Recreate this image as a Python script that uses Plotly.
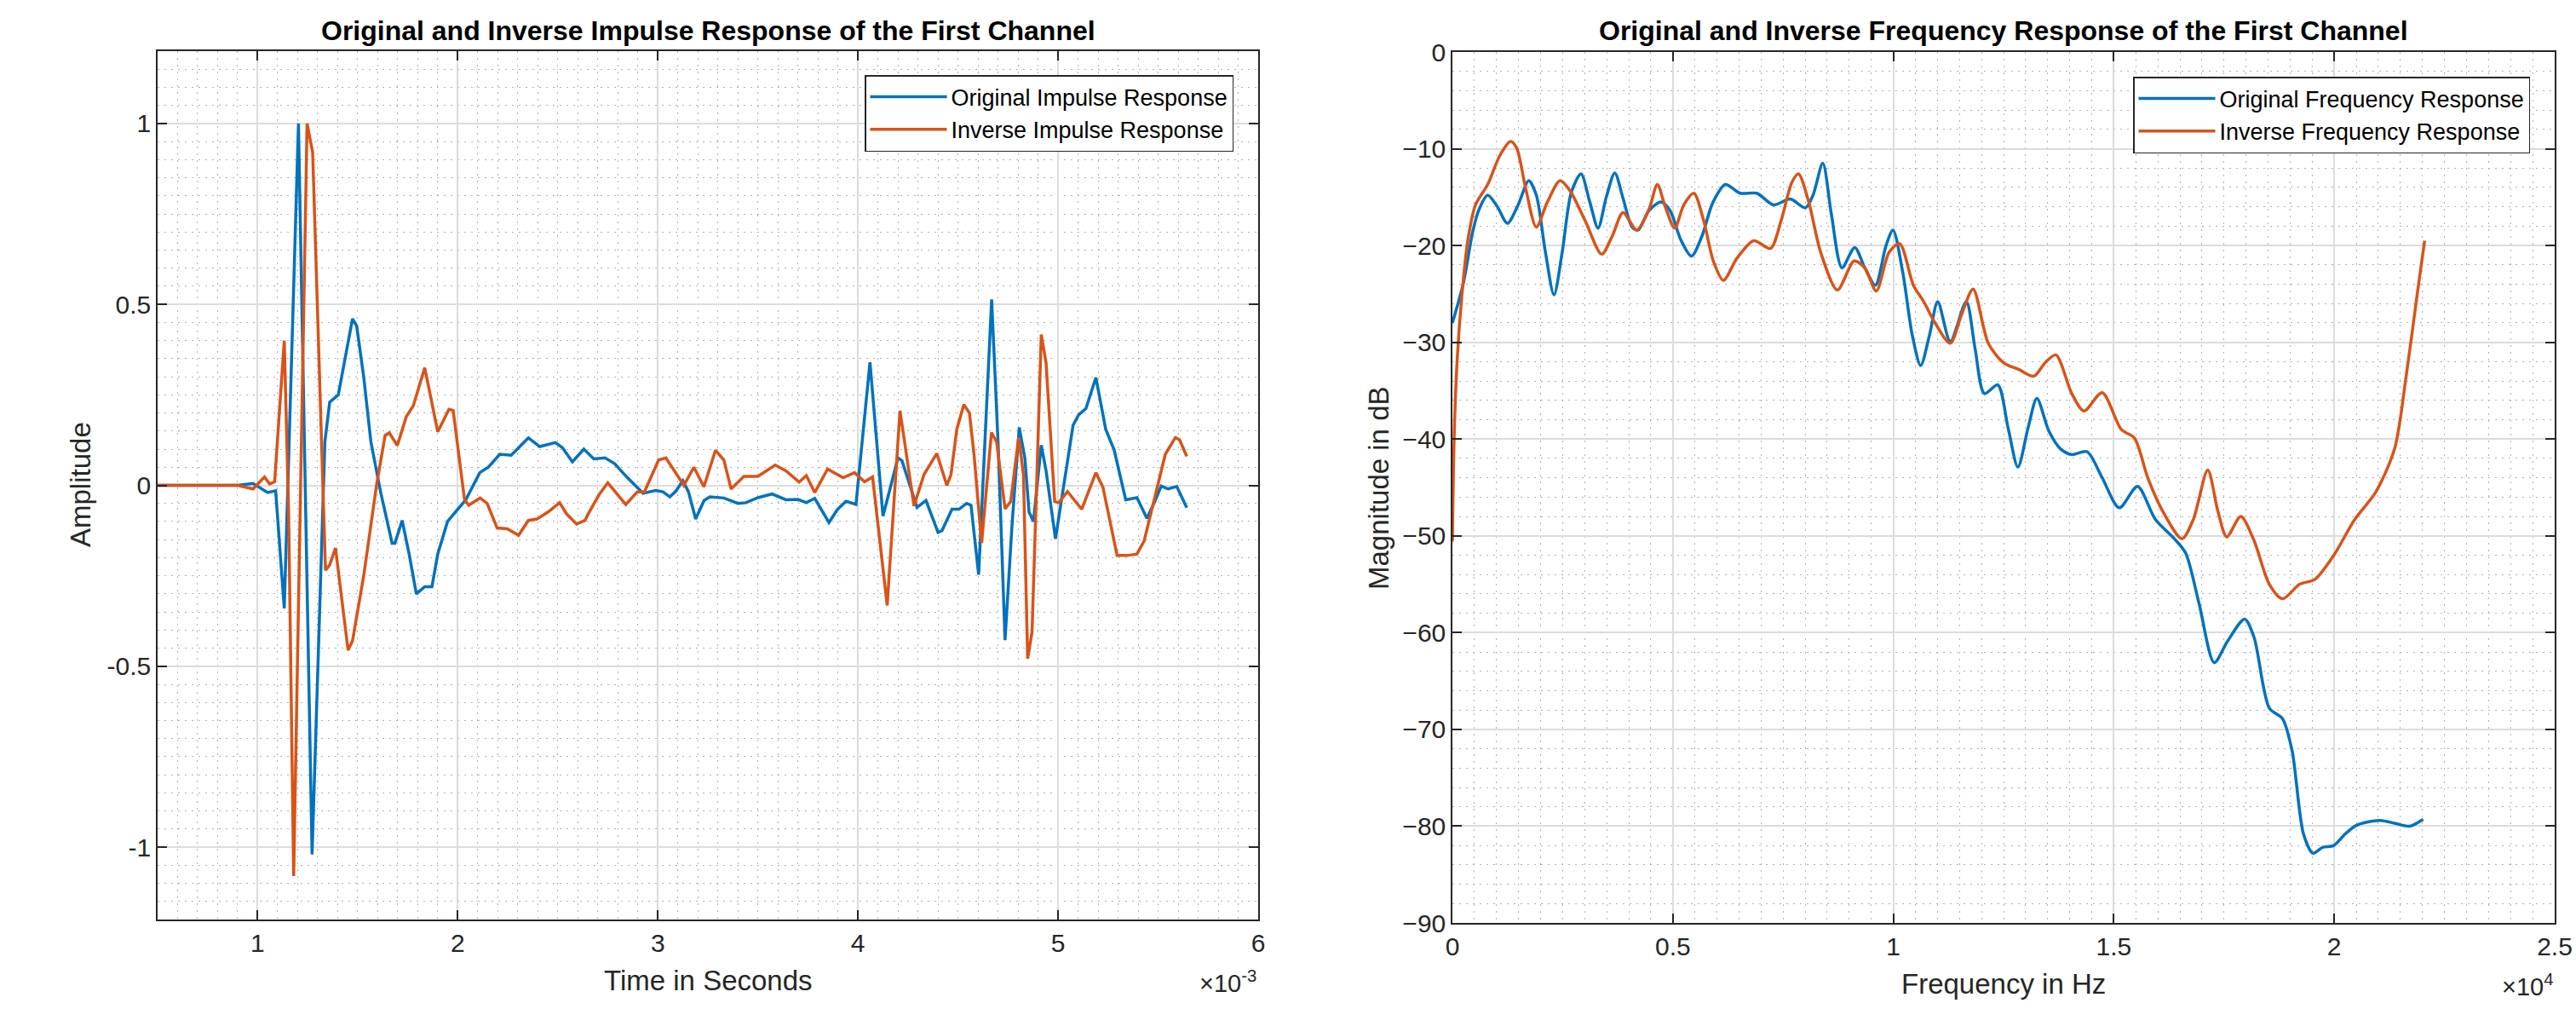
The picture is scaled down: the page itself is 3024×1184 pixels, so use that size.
import plotly.graph_objects as go

# ---------------- data ----------------
# Impulse responses: time in units of 1e-3 s
T_ORIG = [0.50, 0.90, 0.977, 1.05, 1.09, 1.133, 1.204, 1.272, 1.336, 1.36, 1.403, 1.474, 1.495,
          1.53, 1.566, 1.615, 1.672, 1.686, 1.722, 1.757, 1.793, 1.835, 1.871, 1.90, 1.949, 2.04,
          2.11, 2.153, 2.21, 2.267, 2.353, 2.41, 2.488, 2.523, 2.573, 2.63, 2.68, 2.736, 2.784,
          2.848, 2.926, 2.99, 3.025, 3.06, 3.09, 3.125, 3.153, 3.189, 3.231, 3.26, 3.33, 3.40,
          3.44, 3.50, 3.57, 3.64, 3.70, 3.742, 3.784, 3.855, 3.897, 3.94, 3.99, 4.06, 4.125,
          4.20, 4.22, 4.295, 4.34, 4.40, 4.42, 4.47, 4.505, 4.543, 4.565, 4.603, 4.668, 4.70,
          4.735, 4.77, 4.806, 4.834, 4.855, 4.877, 4.916, 4.94, 4.987, 5.018, 5.075, 5.103,
          5.139, 5.189, 5.238, 5.28, 5.338, 5.394, 5.444, 5.487, 5.515, 5.55, 5.593, 5.643]
IR_ORIG = [0, 0, 0.005, -0.02, -0.015, -0.34, 1.0, -1.02, 0.12, 0.23, 0.25, 0.46, 0.44,
           0.30, 0.12, -0.02, -0.16, -0.16, -0.097, -0.19, -0.30, -0.28, -0.28, -0.19, -0.10, -0.04,
           0.035, 0.05, 0.086, 0.083, 0.131, 0.107, 0.118, 0.104, 0.065, 0.10, 0.073, 0.076, 0.06,
           0.021, -0.022, -0.014, -0.018, -0.032, -0.016, 0.013, -0.018, -0.093, -0.042, -0.032, -0.035, -0.05,
           -0.048, -0.034, -0.024, -0.04, -0.039, -0.048, -0.036, -0.103, -0.067, -0.044, -0.053, 0.34, -0.085,
           0.076, 0.068, -0.061, -0.042, -0.13, -0.125, -0.066, -0.066, -0.05, -0.055, -0.247, 0.514, 0.12,
           -0.428, -0.108, 0.16, 0.075, -0.074, -0.10, 0.111, 0.04, -0.148, -0.04, 0.166, 0.195,
           0.212, 0.298, 0.155, 0.098, -0.04, -0.034, -0.091, -0.04, -0.002, -0.01, -0.003, -0.062]

T_INV = [0.50, 0.90, 0.977, 1.034, 1.06, 1.085, 1.133, 1.155, 1.18, 1.247, 1.275, 1.339, 1.36,
         1.389, 1.452, 1.474, 1.53, 1.594, 1.637, 1.658, 1.698, 1.743, 1.778, 1.835, 1.90, 1.956,
         1.977, 2.034, 2.055, 2.112, 2.147, 2.197, 2.247, 2.304, 2.353, 2.396, 2.453, 2.509, 2.544,
         2.594, 2.636, 2.65, 2.706, 2.75, 2.84, 2.897, 2.933, 3.004, 3.04, 3.13, 3.18, 3.23, 3.288,
         3.33, 3.366, 3.43, 3.50, 3.586, 3.64, 3.706, 3.742, 3.784, 3.848, 3.926, 3.983, 4.033,
         4.073, 4.11, 4.146, 4.21, 4.28, 4.33, 4.394, 4.444, 4.465, 4.494, 4.529, 4.557, 4.58,
         4.618, 4.667, 4.693, 4.735, 4.763, 4.803, 4.827, 4.848, 4.87, 4.916, 4.94, 4.983, 5.004,
         5.047, 5.118, 5.189, 5.224, 5.295, 5.345, 5.394, 5.43, 5.487, 5.536, 5.586, 5.607, 5.643]
IR_INV = [0, 0, -0.01, 0.023, 0.004, 0.01, 0.40, -0.08, -1.08, 1.0, 0.92, -0.235, -0.22,
          -0.173, -0.456, -0.43, -0.25, 0.0, 0.138, 0.145, 0.11, 0.19, 0.22, 0.325, 0.148, 0.21,
          0.207, -0.04, -0.055, -0.035, -0.05, -0.118, -0.12, -0.138, -0.097, -0.093, -0.073, -0.048, -0.079,
          -0.107, -0.097, -0.081, -0.026, 0.007, -0.053, -0.018, -0.018, 0.07, 0.076, 0.0, 0.05, -0.004, 0.097,
          0.07, -0.01, 0.025, 0.025, 0.056, 0.04, 0.009, 0.027, -0.02, 0.045, 0.021, 0.035, 0.01,
          0.023, -0.15, -0.332, 0.206, -0.057, 0.03, 0.088, 0.0, 0.03, 0.155, 0.223, 0.2, 0.085,
          -0.159, 0.146, 0.12, -0.065, -0.045, 0.132, 0.03, -0.479, -0.405, 0.417, 0.338, -0.045, -0.048,
          -0.017, -0.066, 0.035, -0.005, -0.194, -0.194, -0.19, -0.154, -0.028, 0.086, 0.132, 0.126, 0.08]

# Frequency responses: frequency in Hz, magnitude in dB
F_ORIG = [0, 248, 455, 593, 800, 1007, 1248, 1490, 1731, 1903, 2110, 2304, 2490, 2697, 2917, 3110,
          3304, 3490, 3683, 3869, 4076, 4214, 4455, 4731, 4938, 5179, 5421, 5662, 5903, 6193, 6524,
          6904, 7283, 7662, 8007, 8179, 8400, 8593, 8835, 9124, 9352, 9593, 9835, 9993, 10215, 10431,
          10620, 10818, 11008, 11292, 11654, 11852, 12067, 12368, 12601, 12825, 13058, 13256, 13531,
          13790, 14048, 14393, 14737, 15125, 15538, 15943, 16374, 16632, 16934, 17278, 17579, 17967,
          18182, 18527, 18828, 19044, 19302, 19518, 19733, 19991, 20250, 20508, 21025, 21369, 21714, 22015]
DB_ORIG = [-28.0, -23.9, -18.7, -16.4, -14.8, -15.9, -17.7, -15.8, -13.3, -14.8, -20.7, -25.1, -20.7,
           -14.5, -12.6, -15.4, -18.2, -15.0, -12.5, -15.1, -18.1, -18.4, -16.4, -15.5, -16.4, -19.4,
           -21.1, -19.0, -15.6, -13.7, -14.6, -14.6, -15.8, -15.2, -16.1, -14.8, -11.5, -16.7, -22.3,
           -20.2, -22.3, -24.1, -20.0, -18.4, -22.8, -29.3, -32.4, -29.3, -25.8, -29.9, -25.8, -30.6,
           -35.3, -34.4, -38.8, -42.9, -38.8, -35.8, -39.2, -41.0, -41.6, -41.3, -44.0, -47.1, -44.9,
           -48.3, -50.3, -51.8, -57.0, -63.1, -60.9, -58.6, -60.5, -67.8, -68.9, -72.2, -80.8, -82.8,
           -82.2, -82.0, -80.8, -79.9, -79.4, -79.7, -80.0, -79.3]

F_INV = [0, 41, 110, 214, 352, 524, 800, 1076, 1317, 1455, 1662, 1903, 2145, 2441, 2662, 3007, 3386,
         3628, 3869, 4180, 4455, 4648, 4835, 5042, 5248, 5476, 5697, 5918, 6145, 6455, 6835, 7214,
         7456, 7697, 7849, 8076, 8352, 8731, 9111, 9352, 9614, 9904, 10145, 10455, 10689, 10947,
         11292, 11550, 11809, 12153, 12497, 12842, 13187, 13445, 13686, 14048, 14324, 14737, 15168,
         15469, 15771, 16115, 16546, 16804, 17131, 17364, 17562, 17881, 18182, 18527, 18828, 19216,
         19560, 19991, 20465, 20939, 21369, 21628, 21886, 22050]
DB_INV = [-50.6, -39.6, -31.7, -25.2, -19.4, -15.8, -13.7, -10.7, -9.25, -9.9, -14.1, -18.1, -15.6,
          -13.3, -14.3, -17.4, -20.9, -19.0, -16.6, -18.4, -16.3, -13.7, -16.1, -18.2, -15.8, -14.6,
          -17.4, -21.6, -23.6, -21.3, -19.5, -20.3, -17.4, -13.5, -12.6, -15.4, -20.7, -24.6, -21.6,
          -22.3, -24.7, -20.7, -19.8, -24.1, -25.8, -28.0, -30.1, -27.1, -24.5, -30.1, -32.1, -32.8,
          -33.5, -32.1, -31.3, -35.3, -37.1, -35.2, -39.0, -39.9, -44.0, -47.5, -50.3, -48.3, -43.2,
          -47.5, -50.1, -48.0, -50.5, -55.0, -56.5, -55.0, -54.5, -52.0, -48.3, -45.5, -41.0, -33.6,
          -24.9, -19.5]

X1_TICKS = [1, 2, 3, 4, 5, 6]
Y1_TICKS = [-1, -0.5, 0, 0.5, 1]
Y1_TICKTEXT = ["-1", "-0.5", "0", "0.5", "1"]
X2_TICKS = [0, 5000, 10000, 15000, 20000, 25000]
X2_TICKTEXT = ["0", "0.5", "1", "1.5", "2", "2.5"]
Y2_TICKS = [-90, -80, -70, -60, -50, -40, -30, -20, -10, 0]

# ---------------- styling ----------------
W, H = 3024, 1184
BLUE = "#0072BD"
ORANGE = "#D95319"
AX = "#262626"
FONT = "Liberation Sans, Arial, Helvetica, sans-serif"


def fx(p):
    return p / W


def fy(p):
    return 1 - p / H


fig = go.Figure()
fig.add_trace(go.Scatter(x=T_ORIG, y=IR_ORIG, mode="lines", name="Original Impulse Response",
                         line=dict(color=BLUE, width=3.5), xaxis="x", yaxis="y", legend="legend"))
fig.add_trace(go.Scatter(x=T_INV, y=IR_INV, mode="lines", name="Inverse Impulse Response",
                         line=dict(color=ORANGE, width=3.5), xaxis="x", yaxis="y", legend="legend"))
fig.add_trace(go.Scatter(x=F_ORIG, y=DB_ORIG, mode="lines", name="Original Frequency Response",
                         line=dict(color=BLUE, width=3.5, shape="spline", smoothing=0.8),
                         xaxis="x2", yaxis="y2", legend="legend2"))
fig.add_trace(go.Scatter(x=F_INV, y=DB_INV, mode="lines", name="Inverse Frequency Response",
                         line=dict(color=ORANGE, width=3.5, shape="spline", smoothing=0.8),
                         xaxis="x2", yaxis="y2", legend="legend2"))


def axis_style(minor_dtick):
    return dict(
        showline=True, linecolor=AX, linewidth=1.5, mirror="allticks",
        ticks="inside", ticklen=11, tickwidth=1.5, tickcolor=AX,
        showgrid=True, gridcolor="#dcdcdc", gridwidth=1.5, zeroline=False,
        tickfont=dict(family=FONT, size=30, color=AX),
        automargin=False, fixedrange=True,
        minor=dict(dtick=minor_dtick, showgrid=True, gridcolor="#b4b4b4",
                   griddash="2px,6px", gridwidth=1, ticks=""),
    )


xa1 = axis_style(0.1)
xa1.update(domain=[fx(185), fx(1477)], range=[0.5, 6], tickvals=X1_TICKS, anchor="y")
ya1 = axis_style(0.05)
ya1.update(domain=[fy(1079), fy(60)], range=[-1.2, 1.2], tickvals=Y1_TICKS,
           ticktext=Y1_TICKTEXT, anchor="x")
xa2 = axis_style(500)
xa2.update(domain=[fx(1705), fx(2999)], range=[0, 25000], tickvals=X2_TICKS,
           ticktext=X2_TICKTEXT, anchor="y2")
ya2 = axis_style(2)
ya2.update(domain=[fy(1083), fy(61)], range=[-90, 0], tickvals=Y2_TICKS, anchor="x2")

legend_common = dict(bgcolor="white", bordercolor=AX, borderwidth=1.5,
                     font=dict(family=FONT, size=27, color="black"),
                     xanchor="right", yanchor="top", itemwidth=90, tracegroupgap=0)

fig.update_layout(
    width=W, height=H, margin=dict(l=0, r=0, t=0, b=0),
    paper_bgcolor="white", plot_bgcolor="white",
    font=dict(family=FONT, size=30, color=AX),
    xaxis=xa1, yaxis=ya1, xaxis2=xa2, yaxis2=ya2,
    legend=dict(x=fx(1448), y=fy(88), **legend_common),
    legend2=dict(x=fx(2970), y=fy(90), **legend_common),
    showlegend=True,
)

annos = [
    dict(text="<b>Original and Inverse Impulse Response of the First Channel</b>",
         x=fx(831), y=fy(36), font=dict(size=32, color="black")),
    dict(text="<b>Original and Inverse Frequency Response of the First Channel</b>",
         x=fx(2352), y=fy(36), font=dict(size=32, color="black")),
    dict(text="Time in Seconds", x=fx(831), y=fy(1150), font=dict(size=33, color=AX)),
    dict(text="Amplitude", x=fx(94), y=fy(569), textangle=-90, font=dict(size=33, color=AX)),
    dict(text="Frequency in Hz", x=fx(2352), y=fy(1154), font=dict(size=33, color=AX)),
    dict(text="Magnitude in dB", x=fx(1618), y=fy(572), textangle=-90, font=dict(size=33, color=AX)),
    dict(text="\u00d710<sup>-3</sup>", x=fx(1477), y=fy(1152), xanchor="right",
         font=dict(size=29, color=AX)),
    dict(text="\u00d710<sup>4</sup>", x=fx(2999), y=fy(1156), xanchor="right",
         font=dict(size=29, color=AX)),
]
for a in annos:
    a.setdefault("xanchor", "center")
    a.update(xref="paper", yref="paper", showarrow=False, yanchor="middle")
    a["font"]["family"] = FONT
    fig.add_annotation(**a)

fig.write_html(
    "out.html",
    config={"displayModeBar": False, "staticPlot": False},
    post_script="document.body.style.margin='0';document.body.style.overflow='hidden';",
)
